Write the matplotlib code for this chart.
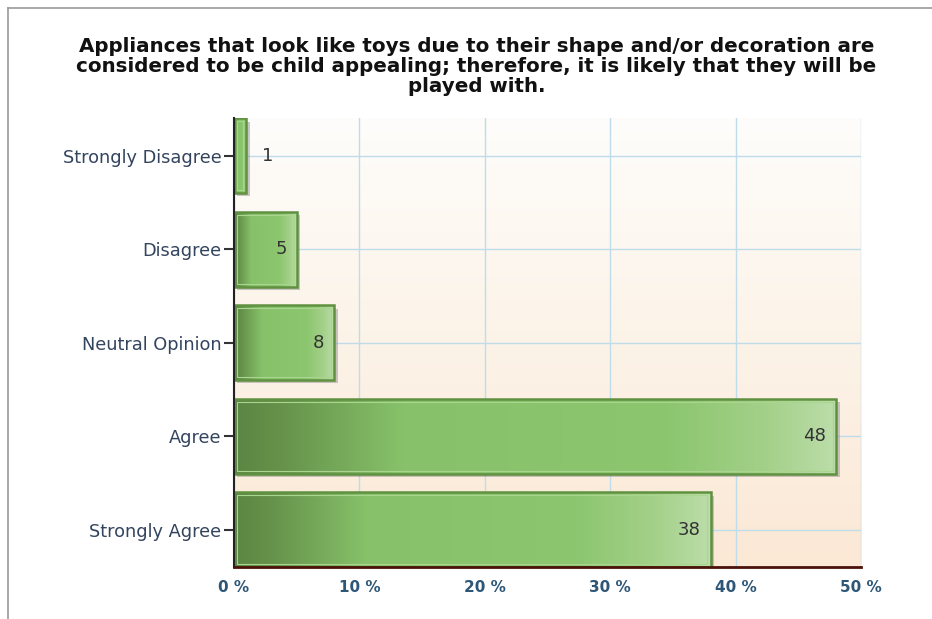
import numpy as np
import matplotlib
matplotlib.use("Agg")
import matplotlib.pyplot as plt
import matplotlib.patheffects as pe
from matplotlib.colors import LinearSegmentedColormap
from matplotlib.lines import Line2D

plt.rcParams['font.family'] = ['DejaVu Sans']

title = ("Appliances that look like toys due to their shape and/or decoration are\n"
         "considered to be child appealing; therefore, it is likely that they will be\n"
         "played with.")
categories = ["Strongly Disagree", "Disagree", "Neutral Opinion", "Agree", "Strongly Agree"]
values = [1, 5, 8, 48, 38]          # percent of responses
xticks = [0, 10, 20, 30, 40, 50]
xticklabels = ["0 %", "10 %", "20 %", "30 %", "40 %", "50 %"]

fig = plt.figure(figsize=(9.32, 6.19), dpi=100)
ax = fig.add_axes([0.251, 0.084, 0.673, 0.725])

# page border (top and left)
fig.add_artist(Line2D([8/932, 1], [1-8/619, 1-8/619], color='#9a9a9a', lw=1.2, transform=fig.transFigure))
fig.add_artist(Line2D([8/932, 8/932], [0, 1-8/619], color='#9a9a9a', lw=1.2, transform=fig.transFigure))

# plot background gradient, white to peach
bg = LinearSegmentedColormap.from_list('bg', ['#fefdfb', '#fcf3e8', '#fbe8d5'])
ax.imshow(np.linspace(0, 1, 256).reshape(-1, 1), extent=[0, 1, 0, 1], transform=ax.transAxes,
          cmap=bg, aspect='auto', zorder=0)

ypos = np.arange(len(categories))
h = 0.8
bars = ax.barh(ypos, values, height=h, color='#7fb862', zorder=2,
               path_effects=[pe.withSimplePatchShadow(offset=(2.5, -2.5), shadow_rgbFace='#888888', alpha=0.45)])

green = LinearSegmentedColormap.from_list('green', [(0, '#5b8543'), (0.08, '#66934b'), (0.28, '#87c26a'),
                                                   (0.72, '#8cc66f'), (0.88, '#a3d088'), (1.0, '#bcddaa')])
grad = np.linspace(0, 1, 256).reshape(1, -1)
for bar, v, y in zip(bars, values, ypos):
    im = ax.imshow(grad, extent=[0, v, y - h/2, y + h/2], cmap=green, aspect='auto', zorder=3)
    im.set_clip_path(bar)
ax.barh(ypos, values, height=h, fill=False, edgecolor='#5f9140', lw=1.8, zorder=4)
ax.barh(ypos, [v - 0.5 for v in values], left=0.25, height=h - 0.06, fill=False,
        edgecolor='#a9d58f', lw=0.8, zorder=4)

for v, y in zip(values, ypos):
    if v < 3:
        ax.text(v + 1.2, y, str(v), va='center', ha='left', fontsize=13, color='#333333', zorder=5)
    else:
        ax.text(v - 0.8, y, str(v), va='center', ha='right', fontsize=13, color='#333333', zorder=5)

ax.set_xlim(0, 50)
ax.set_ylim(len(categories) - 0.6, -0.4)
ax.set_xticks(xticks)
ax.set_xticklabels(xticklabels, fontsize=11, color='#2d5677', fontweight='bold')
ax.set_yticks(ypos)
ax.set_yticklabels(categories, fontsize=12.8, color='#33445e')
ax.tick_params(axis='x', length=0, pad=9)
ax.tick_params(axis='y', length=7, width=1.5, color='#333333', pad=2)

ax.grid(True, color='#bfdcea', lw=1, zorder=1)
ax.set_axisbelow(True)
for s in ['top', 'right']:
    ax.spines[s].set_visible(False)
ax.spines['left'].set_color('#222222')
ax.spines['left'].set_linewidth(1.5)
ax.spines['bottom'].set_color('#4a1208')
ax.spines['bottom'].set_linewidth(2)
ax.spines['left'].set_zorder(6)
ax.spines['bottom'].set_zorder(6)

fig.text(0.511, 0.893, title, ha='center', va='center', fontsize=14.3, fontweight='bold',
         color='#111111', linespacing=1.06)

fig.savefig('out.png', dpi=100)
